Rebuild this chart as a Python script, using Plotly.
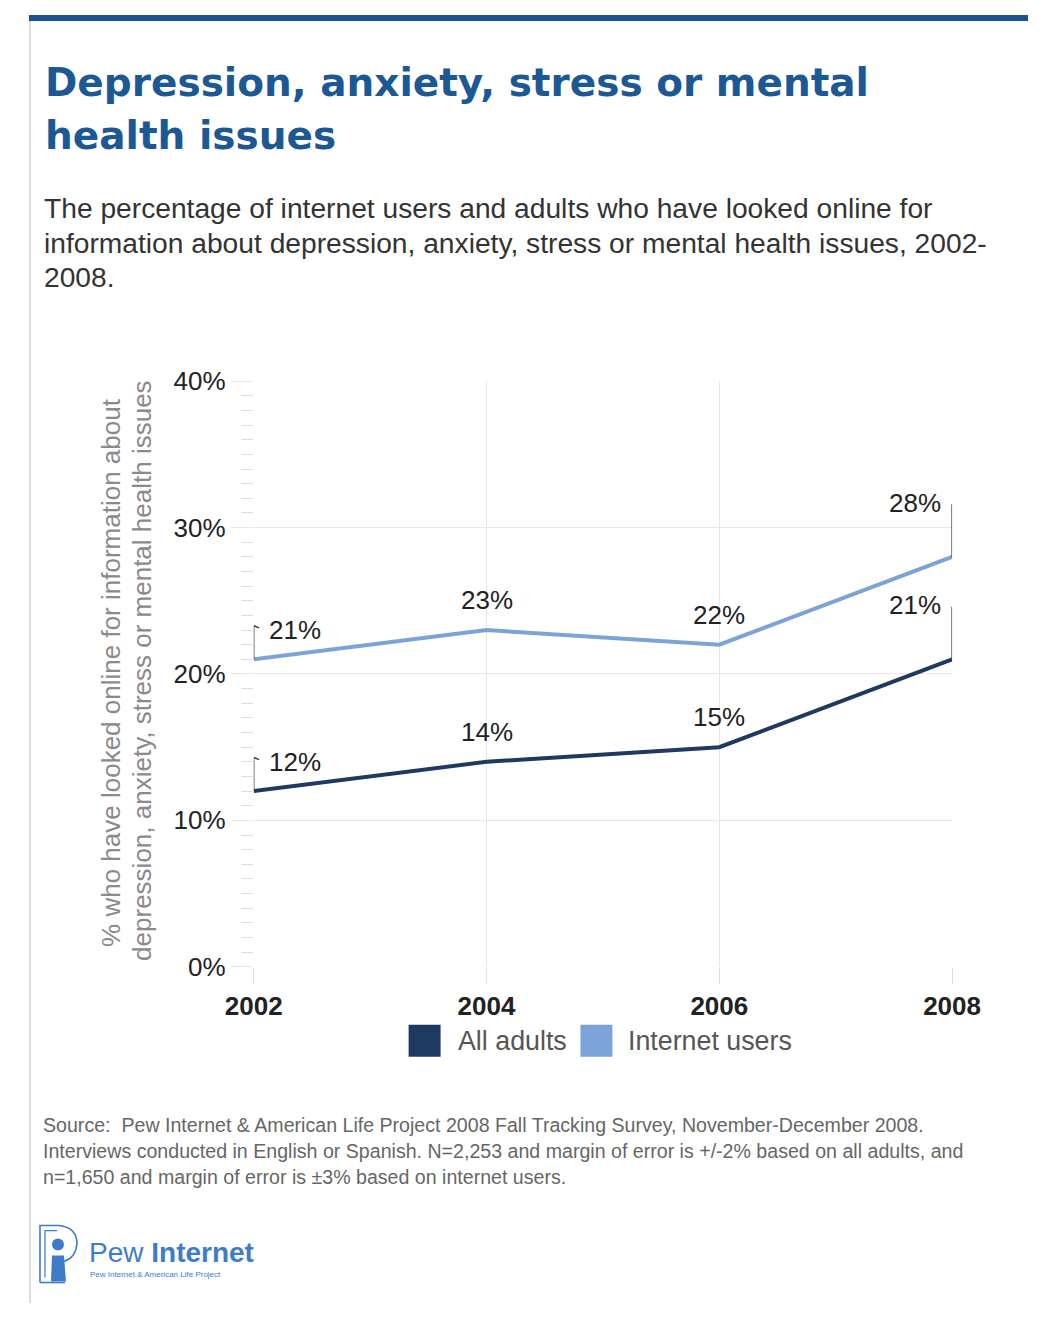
import plotly.graph_objects as go

# Survey data
years = [2002, 2004, 2006, 2008]
all_adults = [12, 14, 15, 21]
internet_users = [21, 23, 22, 28]
y_ticks = [0, 10, 20, 30, 40]
y_tick_labels = ["0%", "10%", "20%", "30%", "40%"]

W, H = 1057, 1318
# page-pixel -> paper-fraction helpers (drawing area offset and size)
OX, OY, PW, PH = 28.0, 14.5, 1000.0, 1289.0


def fx(s):
    return (s - OX) / PW


def fy(s):
    return 1 - (s - OY) / PH


DARK = "#1f3a60"
LIGHT = "#7ca3d8"
TITLE_BLUE = "#1c5894"
SANS = "Liberation Sans, Arial"

fig = go.Figure()
fig.add_trace(go.Scatter(x=years, y=internet_users, mode="lines", name="Internet users",
                         line=dict(color=LIGHT, width=4), showlegend=False))
fig.add_trace(go.Scatter(x=years, y=all_adults, mode="lines", name="All adults",
                         line=dict(color=DARK, width=4), showlegend=False))

annotations = []
shapes = []
label_font = dict(family=SANS, size=26, color="#222")


def text(x, y, s, size, color, family=SANS, xanchor="left", yanchor="middle", angle=0):
    annotations.append(dict(x=fx(x), y=fy(y), xref="paper", yref="paper", text=s, showarrow=False,
                            xanchor=xanchor, yanchor=yanchor, textangle=angle,
                            font=dict(family=family, size=size, color=color)))


# Value labels: middle years sit above the point, end years use leader lines
for series in (all_adults, internet_users):
    for yr, v in zip(years, series):
        txt = f"{v}%"
        if yr == years[0]:
            top = v + 2.3
            shapes.append(dict(type="line", xref="x", yref="y", x0=yr, x1=yr, y0=v, y1=top,
                               line=dict(color="#333", width=1.3)))
            shapes.append(dict(type="line", xref="x", yref="y", x0=yr, x1=yr + 0.045, y0=top, y1=top - 0.15,
                               line=dict(color="#333", width=1.3)))
            annotations.append(dict(x=yr, y=v + 2.0, xref="x", yref="y", text=txt, showarrow=False,
                                    xanchor="left", yanchor="middle", xshift=13, font=label_font))
        elif yr == years[-1]:
            top = v + 3.6
            shapes.append(dict(type="line", xref="x", yref="y", x0=yr, x1=yr, y0=v, y1=top,
                               line=dict(color="#333", width=1.3)))
            annotations.append(dict(x=yr, y=v + 3.7, xref="x", yref="y", text=txt, showarrow=False,
                                    xanchor="right", yanchor="middle", xshift=-9, font=label_font))
        else:
            annotations.append(dict(x=yr, y=v, xref="x", yref="y", text=txt, showarrow=False,
                                    xanchor="center", yanchor="middle", yshift=30, font=label_font))

# Header rule and left border
shapes.append(dict(type="rect", xref="paper", yref="paper", x0=0, x1=1, y0=fy(20.5), y1=1,
                   fillcolor="#1b5290", line=dict(width=0), layer="above"))
shapes.append(dict(type="line", xref="paper", yref="paper", x0=fx(29), x1=fx(29), y0=0, y1=fy(20.5),
                   line=dict(color="#d0d0d0", width=1.5)))

# Title and subtitle
TITLE_FAMILY = "DejaVu Sans"
text(42, 82, "<b>Depression, anxiety, stress or mental</b>", 39, TITLE_BLUE, TITLE_FAMILY)
text(42, 135, "<b>health issues</b>", 39, TITLE_BLUE, TITLE_FAMILY)
subtitle_lines = [
    "The percentage of internet users and adults who have looked online for",
    "information about depression, anxiety, stress or mental health issues, 2002-",
    "2008.",
]
for i, line in enumerate(subtitle_lines):
    text(41, 208 + 34.5 * i, line, 28.2, "#333")

# Axis title (two rotated lines)
text(110, 672, "% who have looked online for information about", 26, "#8a8a8a",
     xanchor="center", angle=-90)
text(141, 671, "depression, anxiety, stress or mental health issues", 26, "#8a8a8a",
     xanchor="center", angle=-90)

# Legend
legend_items = [("All adults", DARK, 408, 457), ("Internet users", LIGHT, 580, 628)]
for name, col, sx, tx in legend_items:
    shapes.append(dict(type="rect", xref="paper", yref="paper", x0=fx(sx), x1=fx(sx + 32),
                       y0=fy(1057), y1=fy(1025), fillcolor=col, line=dict(width=0)))
    text(tx - 2, 1041, name, 26.8, "#555")

# Source note
source_lines = [
    "Source:  Pew Internet &amp; American Life Project 2008 Fall Tracking Survey, November-December 2008.",
    "Interviews conducted in English or Spanish. N=2,253 and margin of error is +/-2% based on all adults, and",
    "n=1,650 and margin of error is ±3% based on internet users.",
]
for i, line in enumerate(source_lines):
    text(40, 1125 + 26 * i, line, 19.6, "#666")

# Logo mark
LOGO = "#3d7cc9"
shapes.append(dict(type="path", xref="paper", yref="paper",
                   path=(f"M {fx(39)},{fy(1283)} L {fx(39)},{fy(1226)} L {fx(58)},{fy(1226)} "
                         f"Q {fx(76)},{fy(1228)} {fx(76)},{fy(1244)} Q {fx(75)},{fy(1258)} {fx(63)},{fy(1262)}"),
                   line=dict(color=LOGO, width=1.6)))
shapes.append(dict(type="path", xref="paper", yref="paper",
                   path=f"M {fx(39)},{fy(1283)} L {fx(64)},{fy(1283)}",
                   line=dict(color=LOGO, width=1.6)))
shapes.append(dict(type="path", xref="paper", yref="paper",
                   path=f"M {fx(44)},{fy(1278)} L {fx(44)},{fy(1231)} L {fx(56)},{fy(1231)}",
                   line=dict(color=LOGO, width=1.2)))
shapes.append(dict(type="circle", xref="paper", yref="paper", x0=fx(51), x1=fx(63), y0=fy(1251), y1=fy(1239),
                   fillcolor=LOGO, line=dict(width=0)))
shapes.append(dict(type="path", xref="paper", yref="paper",
                   path=(f"M {fx(50)},{fy(1282)} L {fx(51)},{fy(1256)} L {fx(63)},{fy(1256)} "
                         f"L {fx(65)},{fy(1282)} Z"),
                   fillcolor=LOGO, line=dict(width=0)))
text(86, 1253, "Pew <b>Internet</b>", 28, LOGO)
text(87, 1275, "Pew Internet &amp; American Life Project", 8, LOGO)

fig.update_layout(
    width=W, height=H,
    margin=dict(l=0, r=0, t=0, b=0),
    paper_bgcolor="white", plot_bgcolor="white",
    showlegend=False,
    xaxis=dict(domain=[fx(253), fx(952)], range=[2002, 2008], tickvals=years,
               ticktext=[f"<b>{y}</b>" for y in years],
               showgrid=True, gridcolor="#e6e6e6", gridwidth=1.3, zeroline=False,
               ticks="outside", ticklen=16, tickcolor="#e0e0e0", showline=False,
               tickfont=dict(family=SANS, size=26, color="#222")),
    yaxis=dict(domain=[fy(967), fy(381)], range=[0, 40], tickvals=y_ticks, ticktext=y_tick_labels,
               showgrid=True, gridcolor="#e6e6e6", gridwidth=1.3, zeroline=False,
               ticks="outside", ticklen=22, tickcolor="#e6e6e6", showline=False,
               minor=dict(dtick=1, ticks="outside", ticklen=12, tickcolor="#dedede", showgrid=False),
               tickfont=dict(family=SANS, size=26, color="#222")),
    shapes=shapes,
    annotations=annotations,
)

fig.write_html("out.html")
